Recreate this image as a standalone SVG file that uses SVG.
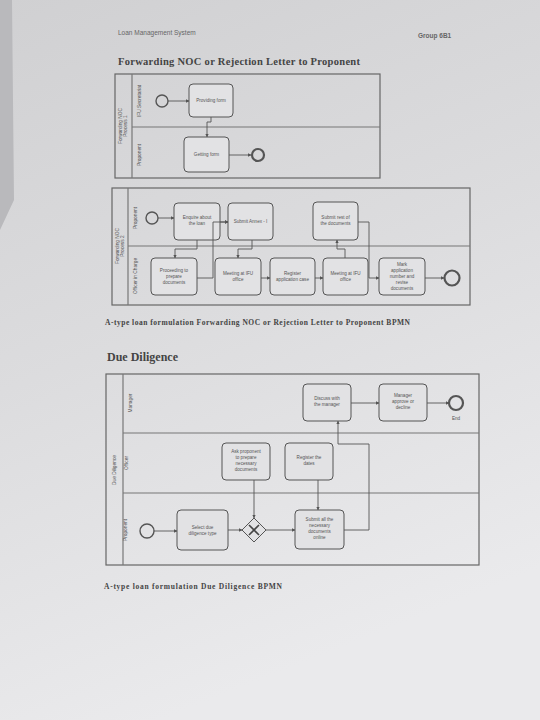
<svg xmlns="http://www.w3.org/2000/svg" width="540" height="720" viewBox="0 0 540 720">
<defs>
<linearGradient id="paper" x1="0" y1="0" x2="0.3" y2="1">
<stop offset="0" stop-color="#d0d0d2"/>
<stop offset="0.5" stop-color="#dcdcde"/>
<stop offset="1" stop-color="#eaeaec"/>
</linearGradient>
<marker id="arr" viewBox="0 0 6 6" refX="5.5" refY="3" markerWidth="4" markerHeight="4" orient="auto">
<path d="M0,0 L6,3 L0,6 z" fill="#555"/>
</marker>
<style>
.pool{fill:none;stroke:#666;stroke-width:1.2}
.lane{stroke:#777;stroke-width:1.2;fill:none}
.task{fill:#e2e2e4;stroke:#555;stroke-width:1}
.ev{fill:none;stroke:#555;stroke-width:1.4}
.evEnd{fill:none;stroke:#555;stroke-width:2.2}
.con{fill:none;stroke:#555;stroke-width:0.9;marker-end:url(#arr)}
.t{font-family:"Liberation Sans",Arial,sans-serif;font-size:4.6px;fill:#555;text-anchor:middle}
.lbl{font-family:"Liberation Sans",Arial,sans-serif;font-size:4.8px;fill:#555;text-anchor:middle}
.hdr{font-family:"Liberation Sans",Arial,sans-serif;font-size:6.5px;fill:#666}
.title{font-family:"Liberation Serif","Times New Roman",serif;font-weight:bold;fill:#444}
.cap{font-family:"Liberation Serif","Times New Roman",serif;font-weight:bold;font-size:7.5px;fill:#444}
</style>
</defs>
<rect x="0" y="0" width="540" height="720" fill="#b9b9bc"/>
<polygon points="12,0 540,0 540,720 0,720 0,230 14,200" fill="url(#paper)"/>

<text class="hdr" x="118" y="35">Loan Management System</text>
<text class="hdr" x="418" y="38" font-weight="bold">Group 6B1</text>
<text class="title" x="118" y="65" font-size="10.5" textLength="242" lengthAdjust="spacing">Forwarding NOC or Rejection Letter to Proponent</text>

<!-- Pool 1 -->
<g id="pool1">
<rect class="pool" x="115" y="74" width="265" height="104"/>
<line class="lane" x1="132" y1="74" x2="132" y2="178"/>
<line class="lane" x1="132" y1="127" x2="380" y2="127"/>
<text class="lbl" transform="translate(122,126) rotate(-90)">Forwarding NOC</text>
<text class="lbl" transform="translate(127,126) rotate(-90)">Process 1</text>
<text class="lbl" transform="translate(141,101) rotate(-90)">IFU Secretariat</text>
<text class="lbl" transform="translate(141,155) rotate(-90)">Proponent</text>
</g>
<g id="p1_start"><circle class="ev" cx="162" cy="101" r="6"/></g>
<g id="p1_providing"><rect class="task" x="189" y="84" width="44" height="33" rx="4"/><text class="t" x="211" y="102">Providing form</text></g>
<g id="p1_getting"><rect class="task" x="184" y="137" width="45" height="35" rx="4"/><text class="t" x="206.5" y="156">Getting form</text></g>
<g id="p1_end"><circle class="evEnd" cx="258" cy="155" r="6"/></g>

<!-- Pool 2 -->
<g id="pool2">
<rect class="pool" x="112" y="188" width="358" height="117"/>
<line class="lane" x1="128" y1="188" x2="128" y2="305"/>
<line class="lane" x1="128" y1="246" x2="470" y2="246" stroke-width="2"/>
<text class="lbl" transform="translate(119,246) rotate(-90)">Forwarding NOC</text>
<text class="lbl" transform="translate(124,246) rotate(-90)">Process 2</text>
<text class="lbl" transform="translate(137,218) rotate(-90)">Proponent</text>
<text class="lbl" transform="translate(137,276) rotate(-90)">Officer in Charge</text>
</g>
<g id="p2_start"><circle class="ev" cx="152" cy="218" r="6"/></g>
<g id="p2_enquire"><rect class="task" x="174" y="203" width="46" height="37" rx="4"/><text class="t" x="197" y="219">Enquire about</text><text class="t" x="197" y="225">the loan</text></g>
<g id="p2_annex"><rect class="task" x="228" y="203" width="45" height="37" rx="4"/><text class="t" x="250.5" y="223">Submit Annex - I</text></g>
<g id="p2_rest"><rect class="task" x="313" y="202" width="45" height="38" rx="4"/><text class="t" x="335.5" y="219">Submit rest of</text><text class="t" x="335.5" y="225">the documents</text></g>
<g id="p2_proceed"><rect class="task" x="151" y="258" width="46" height="37" rx="4"/><text class="t" x="174" y="272">Proceeding to</text><text class="t" x="174" y="278">prepare</text><text class="t" x="174" y="284">documents</text></g>
<g id="p2_meet1"><rect class="task" x="215" y="258" width="46" height="37" rx="4"/><text class="t" x="238" y="275">Meeting at IFU</text><text class="t" x="238" y="281">office</text></g>
<g id="p2_register"><rect class="task" x="270" y="258" width="45" height="37" rx="4"/><text class="t" x="292.5" y="275">Register</text><text class="t" x="292.5" y="281">application case</text></g>
<g id="p2_meet2"><rect class="task" x="323" y="258" width="45" height="37" rx="4"/><text class="t" x="345.5" y="275">Meeting at IFU</text><text class="t" x="345.5" y="281">office</text></g>
<g id="p2_mark"><rect class="task" x="379" y="258" width="46" height="37" rx="4"/><text class="t" x="402" y="266">Mark</text><text class="t" x="402" y="272">application</text><text class="t" x="402" y="278">number and</text><text class="t" x="402" y="284">revise</text><text class="t" x="402" y="290">documents</text></g>
<g id="p2_end"><circle class="evEnd" cx="452" cy="278" r="7.5"/></g>

<text class="cap" x="105" y="325" textLength="305" lengthAdjust="spacing">A-type  loan formulation  Forwarding  NOC or Rejection Letter to Proponent  BPMN</text>

<text class="title" x="107" y="361" font-size="12">Due Diligence</text>

<!-- Pool 3 -->
<g id="pool3">
<rect class="pool" x="106" y="374" width="373" height="191"/>
<line class="lane" x1="123" y1="374" x2="123" y2="565"/>
<line class="lane" x1="123" y1="433" x2="479" y2="433"/>
<line class="lane" x1="123" y1="493" x2="479" y2="493"/>
<text class="lbl" transform="translate(116,470) rotate(-90)">Due Diligence</text>
<text class="lbl" transform="translate(132,403) rotate(-90)">Manager</text>
<text class="lbl" transform="translate(128,463) rotate(-90)">Officer</text>
<text class="lbl" transform="translate(127,530) rotate(-90)">Proponent</text>
</g>
<g id="d_discuss"><rect class="task" x="303" y="384" width="48" height="37" rx="4"/><text class="t" x="327" y="400">Discuss with</text><text class="t" x="327" y="406">the manager</text></g>
<g id="d_approve"><rect class="task" x="379" y="384" width="48" height="37" rx="4"/><text class="t" x="403" y="397">Manager</text><text class="t" x="403" y="403">approve or</text><text class="t" x="403" y="409">decline</text></g>
<g id="d_end"><circle class="evEnd" cx="456" cy="403" r="7"/><text class="t" x="456" y="420">End</text></g>
<g id="d_ask"><rect class="task" x="222" y="443" width="48" height="37" rx="4"/><text class="t" x="246" y="453">Ask proponent</text><text class="t" x="246" y="459">to prepare</text><text class="t" x="246" y="465">necessary</text><text class="t" x="246" y="471">documents</text></g>
<g id="d_regdates"><rect class="task" x="285" y="443" width="48" height="37" rx="4"/><text class="t" x="309" y="459">Register the</text><text class="t" x="309" y="465">dates</text></g>
<g id="d_start"><circle class="ev" cx="147" cy="531" r="7"/></g>
<g id="d_select"><rect class="task" x="177" y="510" width="51" height="40" rx="4"/><text class="t" x="202.5" y="529">Select due</text><text class="t" x="202.5" y="535">diligence type</text></g>
<g id="d_gateway"><polygon points="254,518 266,530 254,542 242,530" fill="#e2e2e4" stroke="#555" stroke-width="1"/><path d="M249,525 L259,535 M259,525 L249,535" stroke="#444" stroke-width="1.6"/></g>
<g id="d_submit"><rect class="task" x="295" y="510" width="49" height="39" rx="4"/><text class="t" x="319.5" y="521">Submit all the</text><text class="t" x="319.5" y="527">necessary</text><text class="t" x="319.5" y="533">documents</text><text class="t" x="319.5" y="539">online</text></g>

<text class="cap" x="104" y="589" textLength="178" lengthAdjust="spacing">A-type  loan formulation  Due Diligence BPMN</text>

<g id="connectors">
<path class="con" d="M168,101 H189"/>
<path class="con" d="M211,117 V122 H207 V137"/>
<path class="con" d="M229,155 H251"/>
<path class="con" d="M158,218 H174"/>
<path class="con" d="M220,222 H228"/>
<path class="con" d="M197,240 V249 H175 V258"/>
<path class="con" d="M197,278 H213 V222 H228"/>
<path class="con" d="M252,240 V249 H238 V258"/>
<path class="con" d="M261,278 H270"/>
<path class="con" d="M315,278 H323"/>
<path class="con" d="M345,258 V249 H337 V240"/>
<path class="con" d="M358,222 H369 V278 H379"/>
<path class="con" d="M425,278 H444"/>
<path class="con" d="M154,531 H177"/>
<path class="con" d="M228,530 H242"/>
<path class="con" d="M266,530 H295"/>
<path class="con" d="M254,480 V518"/>
<path class="con" d="M318,480 V510"/>
<path class="con" d="M344,530 H369 V444 H338 V421"/>
<path class="con" d="M351,403 H379"/>
<path class="con" d="M427,403 H449"/>
</g>
</svg>
